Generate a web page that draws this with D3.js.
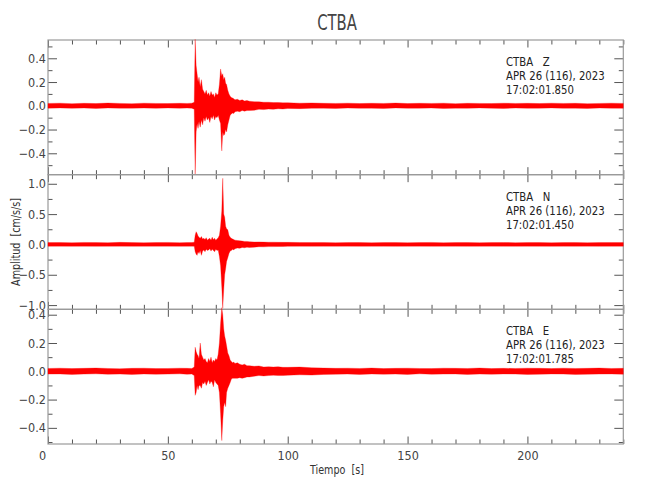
<!DOCTYPE html>
<html><head><meta charset="utf-8">
<script src="https://cdn.jsdelivr.net/npm/d3@7"></script>
<style>
html,body{margin:0;padding:0;background:#fff;}
svg text{font-family:"DejaVu Sans Condensed","Liberation Sans",sans-serif;}
</style></head>
<body><svg id="c" width="650" height="500"></svg>
<script>
// ---- data ----
const chartTitle = "CTBA";
const components = ["Z", "N", "E"];
const startTimes = ["17:02:01.850", "17:02:01.450", "17:02:01.785"];
const dateLabel = "APR 26 (116), 2023";
const xTicks = [0, 50, 100, 150, 200];
const xMinor = d3.range(0, 241, 10);

const time = [0,5,10,15,20,25,30,35,40,45,50,55,58,60,61,
 61.4,61.8,62.2,62.6,63,63.5,64,64.5,65,65.5,66,66.5,67,67.5,68,68.5,69,69.5,70,70.5,71,71.5,72,72.5,72.9,73.3,73.7,74.1,74.5,75,75.5,76,76.5,77,77.5,
 78,79,80,81,82,83,84,86,88,90,92,94,96,98,100,
 105,110,115,120,125,130,135,140,145,150,155,160,165,170,175,180,185,190,195,200,205,210,215,220,225,230,235,240];

const upZ = [0.020,0.022,0.018,0.021,0.019,0.023,0.020,0.018,0.022,0.020,0.019,0.021,0.020,0.022,0.030,
 0.56,0.34,0.27,0.20,0.24,0.16,0.22,0.14,0.12,0.10,0.13,0.09,0.11,0.08,0.12,0.09,0.10,0.07,0.11,0.09,0.10,0.18,0.31,0.25,0.27,0.22,0.24,0.19,0.18,0.13,0.10,0.08,0.07,0.065,0.06,
 0.050,0.055,0.045,0.050,0.040,0.045,0.038,0.035,0.033,0.030,0.030,0.027,0.028,0.025,0.026,
 0.022,0.024,0.021,0.020,0.022,0.019,0.021,0.020,0.023,0.019,0.021,0.020,0.022,0.018,0.021,0.020,0.019,0.022,0.020,0.021,0.019,0.022,0.020,0.021,0.018,0.020,0.022,0.020];
const loZ = [-0.020,-0.018,-0.021,-0.019,-0.022,-0.018,-0.020,-0.020,-0.019,-0.021,-0.018,-0.020,-0.019,-0.020,-0.030,
 -0.58,-0.22,-0.15,-0.19,-0.13,-0.18,-0.12,-0.16,-0.10,-0.13,-0.09,-0.12,-0.10,-0.14,-0.09,-0.11,-0.08,-0.12,-0.09,-0.10,-0.08,-0.12,-0.15,-0.38,-0.22,-0.25,-0.24,-0.20,-0.22,-0.16,-0.12,-0.08,-0.07,-0.06,-0.065,
 -0.050,-0.045,-0.050,-0.040,-0.045,-0.040,-0.040,-0.038,-0.030,-0.032,-0.028,-0.030,-0.025,-0.027,-0.023,
 -0.024,-0.021,-0.020,-0.022,-0.019,-0.021,-0.020,-0.022,-0.018,-0.021,-0.020,-0.019,-0.022,-0.020,-0.021,-0.018,-0.020,-0.022,-0.019,-0.021,-0.020,-0.018,-0.021,-0.020,-0.022,-0.019,-0.020,-0.021];

const upN = [0.030,0.032,0.028,0.033,0.030,0.029,0.034,0.030,0.028,0.031,0.033,0.029,0.030,0.032,0.035,
 0.15,0.21,0.18,0.14,0.12,0.10,0.13,0.09,0.10,0.08,0.11,0.07,0.09,0.10,0.07,0.12,0.08,0.10,0.07,0.09,0.11,0.15,0.30,0.55,1.09,0.50,0.45,0.30,0.26,0.24,0.15,0.12,0.10,0.09,0.08,
 0.070,0.065,0.060,0.055,0.050,0.050,0.045,0.040,0.042,0.038,0.036,0.037,0.035,0.034,0.034,
 0.032,0.030,0.031,0.029,0.030,0.032,0.028,0.030,0.031,0.029,0.030,0.033,0.028,0.030,0.031,0.029,0.030,0.032,0.029,0.030,0.031,0.028,0.030,0.032,0.029,0.030,0.031,0.030];
const loN = [-0.030,-0.028,-0.031,-0.029,-0.032,-0.030,-0.028,-0.031,-0.030,-0.029,-0.028,-0.031,-0.030,-0.029,-0.030,
 -0.12,-0.16,-0.18,-0.12,-0.15,-0.10,-0.18,-0.11,-0.09,-0.12,-0.08,-0.10,-0.09,-0.07,-0.11,-0.08,-0.10,-0.12,-0.08,-0.10,-0.09,-0.20,-0.35,-0.70,-1.05,-0.75,-0.50,-0.40,-0.28,-0.22,-0.15,-0.11,-0.10,-0.08,-0.09,
 -0.070,-0.060,-0.065,-0.050,-0.055,-0.045,-0.050,-0.045,-0.038,-0.040,-0.036,-0.036,-0.034,-0.033,-0.032,
 -0.030,-0.031,-0.029,-0.030,-0.028,-0.031,-0.030,-0.029,-0.032,-0.030,-0.028,-0.031,-0.030,-0.029,-0.031,-0.030,-0.028,-0.030,-0.031,-0.029,-0.030,-0.032,-0.029,-0.030,-0.028,-0.031,-0.030,-0.029];

const upE = [0.020,0.022,0.019,0.021,0.023,0.020,0.018,0.021,0.022,0.019,0.020,0.022,0.021,0.020,0.030,
 0.17,0.14,0.12,0.11,0.09,0.20,0.12,0.10,0.08,0.09,0.07,0.06,0.09,0.07,0.10,0.06,0.08,0.07,0.09,0.08,0.12,0.20,0.34,0.45,0.40,0.30,0.25,0.22,0.18,0.13,0.11,0.08,0.07,0.06,0.065,
 0.055,0.060,0.050,0.045,0.050,0.040,0.040,0.035,0.038,0.030,0.032,0.030,0.032,0.028,0.028,
 0.030,0.025,0.023,0.021,0.022,0.020,0.023,0.019,0.021,0.022,0.020,0.019,0.022,0.021,0.020,0.023,0.019,0.021,0.020,0.022,0.021,0.019,0.022,0.020,0.021,0.023,0.020,0.021];
const loE = [-0.020,-0.019,-0.022,-0.020,-0.018,-0.021,-0.020,-0.022,-0.019,-0.021,-0.020,-0.018,-0.021,-0.020,-0.030,
 -0.17,-0.15,-0.10,-0.13,-0.10,-0.10,-0.12,-0.08,-0.09,-0.07,-0.10,-0.08,-0.06,-0.09,-0.07,-0.08,-0.11,-0.06,-0.08,-0.09,-0.10,-0.15,-0.30,-0.49,-0.35,-0.25,-0.22,-0.25,-0.15,-0.12,-0.10,-0.08,-0.055,-0.05,-0.05,
 -0.050,-0.050,-0.045,-0.050,-0.045,-0.040,-0.040,-0.035,-0.030,-0.033,-0.030,-0.028,-0.030,-0.030,-0.028,
 -0.025,-0.027,-0.022,-0.021,-0.020,-0.022,-0.019,-0.021,-0.020,-0.022,-0.018,-0.021,-0.020,-0.019,-0.022,-0.020,-0.021,-0.019,-0.020,-0.022,-0.021,-0.019,-0.020,-0.022,-0.021,-0.020,-0.019,-0.021];

const yTicksZ = [-0.4, -0.2, 0, 0.2, 0.4];
const yMinorZ = [-0.5, -0.3, -0.1, 0.1, 0.3, 0.5];
const yTicksN = [-1, -0.5, 0, 0.5, 1];
const yMinorN = [-0.75, -0.25, 0.25, 0.75];
const yTicksE = [-0.4, -0.2, 0, 0.2, 0.4];
const yMinorE = [-0.5, -0.3, -0.1, 0.1, 0.3];

// ---- layout ----
const svg = d3.select("#c");
const L = 48, R = 623.3, T = 40, B = 444;
const ph = (B - T) / 3;
const x = d3.scaleLinear().domain([0, 240]).range([L, R]);

const panels = [
  {comp: components[0], up: upZ, lo: loZ, dom: [-0.58, 0.554], ticks: yTicksZ, minor: yMinorZ, st: startTimes[0]},
  {comp: components[1], up: upN, lo: loN, dom: [-1.07, 1.15], ticks: yTicksN, minor: yMinorN, st: startTimes[1]},
  {comp: components[2], up: upE, lo: loE, dom: [-0.514, 0.438], ticks: yTicksE, minor: yMinorE, st: startTimes[2]}
];

const axisCol = "#9a9a9a", tickCol = "#555", textCol = "#444";
const fmtY = d3.format(".1f");

function styleAxis(g) {
  g.select(".domain").remove();
  g.selectAll(".tick line").attr("stroke", tickCol).attr("stroke-width", 1);
  g.selectAll(".tick text").attr("fill", textCol).attr("font-size", 12.5);
}

// narrow text helper (thin plotting font look)
function ntext(xp, yp, s, size, sx, anchor, rot) {
  return svg.append("text")
    .attr("transform", `translate(${xp},${yp})` + (rot ? ` rotate(${rot})` : "") + ` scale(${sx},1)`)
    .attr("text-anchor", anchor || "start").attr("font-size", size)
    .attr("fill", textCol).style("white-space", "pre").text(s);
}

panels.forEach((p, i) => {
  const top = T + i * ph, bot = T + (i + 1) * ph;
  const y = d3.scaleLinear().domain(p.dom).range([bot, top]);

  svg.append("g").attr("transform", `translate(${L},0)`)
    .call(d3.axisLeft(y).tickValues(p.ticks).tickSizeInner(-9).tickSizeOuter(0).tickPadding(2).tickFormat(fmtY))
    .call(styleAxis);
  svg.append("g").attr("transform", `translate(${L},0)`)
    .call(d3.axisLeft(y).tickValues(p.minor).tickSizeInner(-4.5).tickSizeOuter(0).tickFormat(""))
    .call(styleAxis);
  svg.append("g").attr("transform", `translate(${R},0)`)
    .call(d3.axisLeft(y).tickValues(p.ticks).tickSizeInner(9).tickSizeOuter(0).tickFormat(""))
    .call(styleAxis);
  svg.append("g").attr("transform", `translate(${R},0)`)
    .call(d3.axisLeft(y).tickValues(p.minor).tickSizeInner(4.5).tickSizeOuter(0).tickFormat(""))
    .call(styleAxis);

  const minorX = xMinor.filter(v => !xTicks.includes(v));
  svg.append("g").attr("transform", `translate(0,${top})`)
    .call(d3.axisBottom(x).tickValues(xTicks).tickSizeInner(7.5).tickSizeOuter(0).tickFormat(""))
    .call(styleAxis);
  svg.append("g").attr("transform", `translate(0,${top})`)
    .call(d3.axisBottom(x).tickValues(minorX).tickSizeInner(4.5).tickSizeOuter(0).tickFormat(""))
    .call(styleAxis);
  svg.append("g").attr("transform", `translate(0,${bot})`)
    .call(d3.axisTop(x).tickValues(xTicks).tickSizeInner(7.5).tickSizeOuter(0).tickFormat(""))
    .call(styleAxis);
  svg.append("g").attr("transform", `translate(0,${bot})`)
    .call(d3.axisTop(x).tickValues(minorX).tickSizeInner(4.5).tickSizeOuter(0).tickFormat(""))
    .call(styleAxis);

  svg.append("rect").attr("x", L).attr("y", top).attr("width", R - L).attr("height", bot - top)
    .attr("fill", "none").attr("stroke", axisCol).attr("stroke-width", 1.2);

  const data = time.map((t, k) => ({t, up: p.up[k], lo: p.lo[k]}));
  const area = d3.area().x(d => x(d.t)).y0(d => y(d.lo)).y1(d => y(d.up));
  svg.append("path").datum(data).attr("d", area)
    .attr("fill", "#ff0000").attr("stroke", "#ff0000").attr("stroke-width", 0.3);

  const lines = [chartTitle + "   " + p.comp, dateLabel, p.st];
  lines.forEach((s, j) => {
    ntext(506, top + 26 + j * 14, s, 12.5, 0.9).attr("fill", "#222");
  });
});

// x labels on bottom panel
const xl = svg.append("g").attr("transform", `translate(0,${B})`)
  .call(d3.axisBottom(x).tickValues(xTicks).tickSize(0).tickPadding(7).tickFormat(d3.format("d")))
  .call(styleAxis);
xl.selectAll(".tick").filter(d => d === 0).select("text").attr("dx", -6);

// titles
ntext(337, 30, chartTitle, 22, 0.75, "middle");
ntext(337, 474, "Tiempo  [s]", 13, 0.82, "middle").attr("fill", "#333");
ntext(20, 242, "Amplitud  [cm/s/s]", 13, 0.82, "middle", -90).attr("fill", "#333");
</script></body></html>
